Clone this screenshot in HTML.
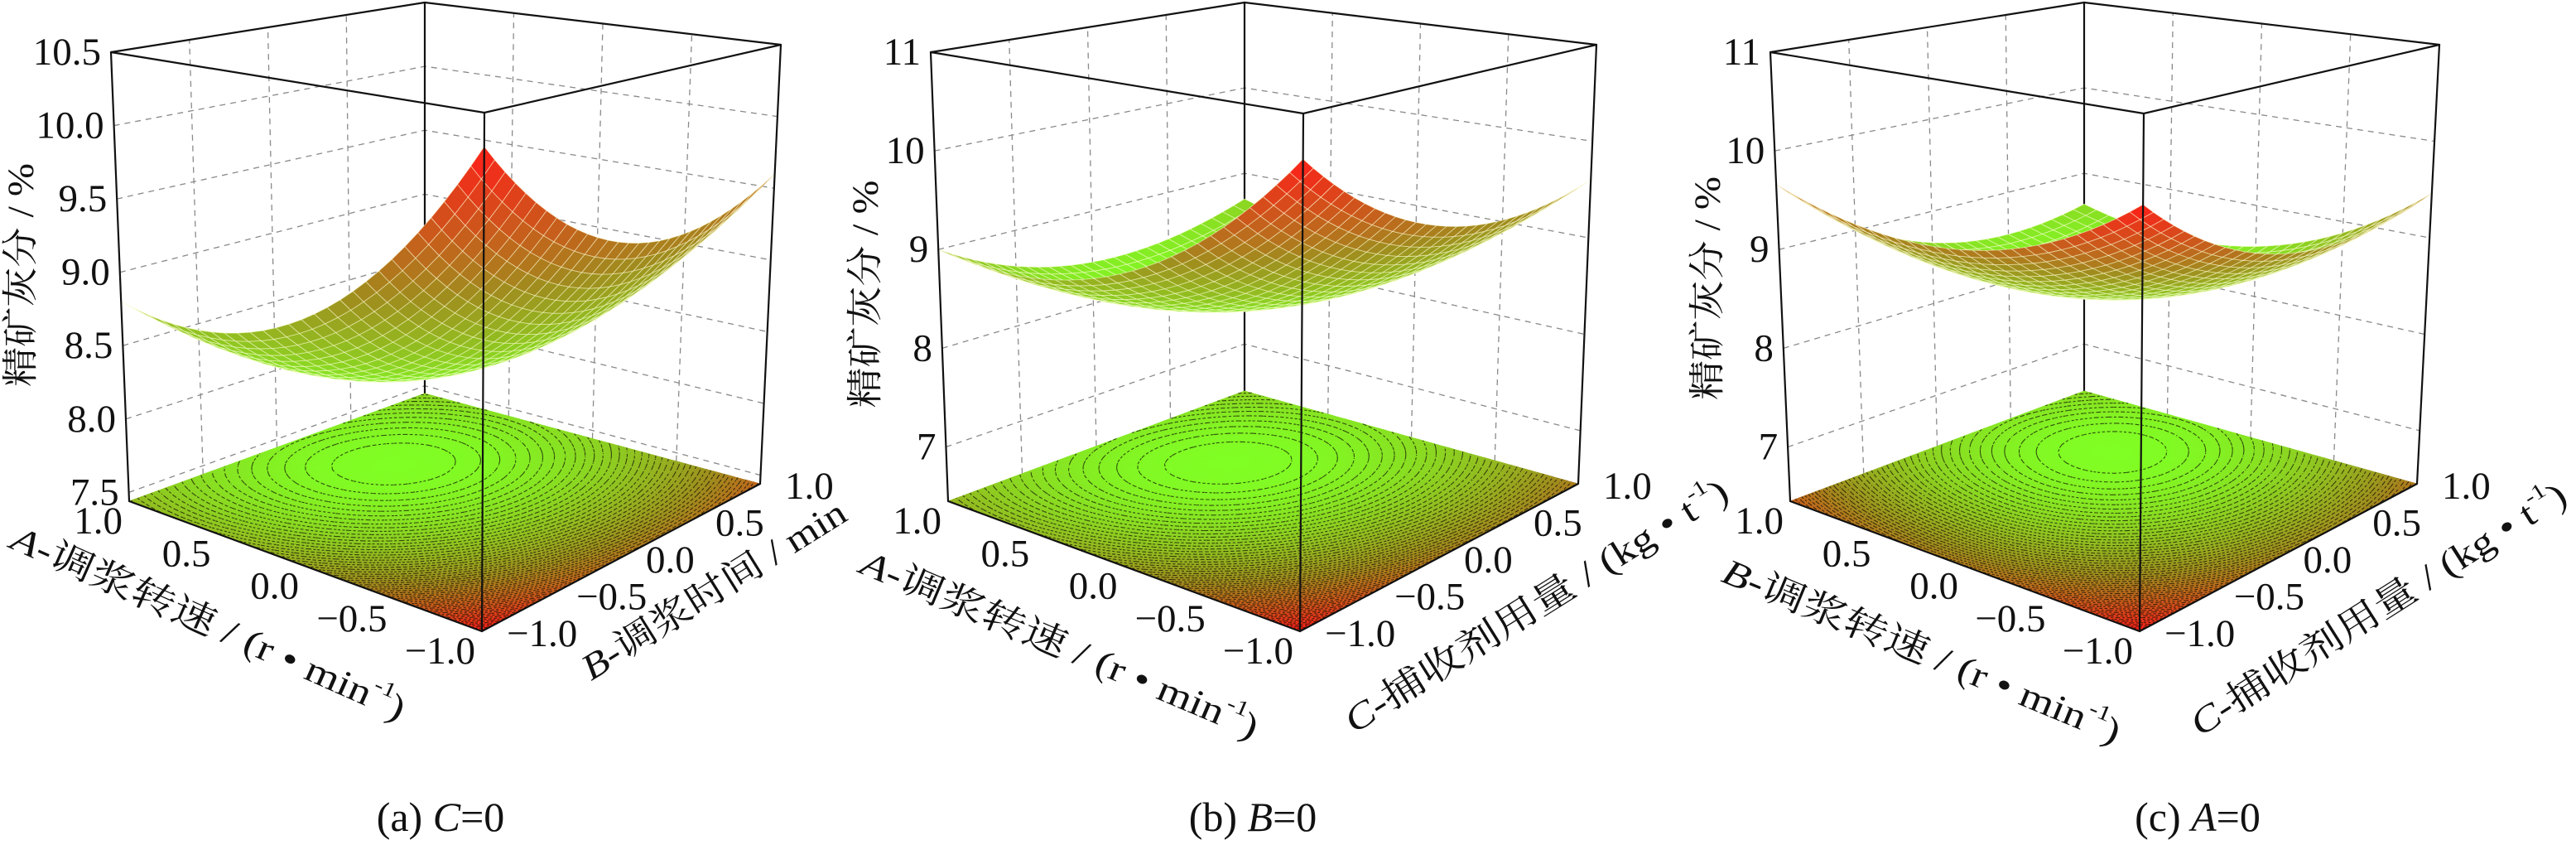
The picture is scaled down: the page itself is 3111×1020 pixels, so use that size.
<!DOCTYPE html>
<html><head><meta charset="utf-8">
<style>
body{margin:0;background:#fff}
svg{display:block}
text{font-family:"Liberation Serif","Noto Serif CJK SC",serif;fill:#111}
</style></head>
<body>
<svg id="chart" width="3111" height="1020" viewBox="0 0 3111 1020">
<rect width="3111" height="1020" fill="#fff"/>
<g id="plot-a"></g>
<g id="plot-b"></g>
<g id="plot-c"></g>

<g font-size="44">
<text transform="translate(25,332) rotate(-90)" text-anchor="middle" dominant-baseline="central" textLength="270" lengthAdjust="spacingAndGlyphs">精矿灰分 / %</text>
<text transform="translate(252,752) rotate(24)" text-anchor="middle" dominant-baseline="central" textLength="516" lengthAdjust="spacingAndGlyphs"><tspan font-style="italic">A</tspan>-调浆转速 / (r • min<tspan font-size="26" dy="-16">-1</tspan><tspan dy="16">)</tspan></text>
<text transform="translate(862,712) rotate(-32)" text-anchor="middle" dominant-baseline="central" textLength="368" lengthAdjust="spacingAndGlyphs"><tspan font-style="italic">B</tspan>-调浆时间 / min</text>
<text x="532" y="1003" text-anchor="middle" font-size="50">(a) <tspan font-style="italic">C</tspan>=0</text>
</g>

<g font-size="44">
<text transform="translate(1045,355) rotate(-90)" text-anchor="middle" dominant-baseline="central" textLength="275" lengthAdjust="spacingAndGlyphs">精矿灰分 / %</text>
<text transform="translate(1280,778) rotate(23)" text-anchor="middle" dominant-baseline="central" textLength="517" lengthAdjust="spacingAndGlyphs"><tspan font-style="italic">A</tspan>-调浆转速 / (r • min<tspan font-size="26" dy="-16">-1</tspan><tspan dy="16">)</tspan></text>
<text transform="translate(1855,731) rotate(-32)" text-anchor="middle" dominant-baseline="central" textLength="537" lengthAdjust="spacingAndGlyphs"><tspan font-style="italic">C</tspan>-捕收剂用量 / (kg • t<tspan font-size="26" dy="-16">-1</tspan><tspan dy="16">)</tspan></text>
<text x="1513" y="1003" text-anchor="middle" font-size="50">(b) <tspan font-style="italic">B</tspan>=0</text>
</g>

<g font-size="44">
<text transform="translate(2062,348) rotate(-90)" text-anchor="middle" dominant-baseline="central" textLength="270" lengthAdjust="spacingAndGlyphs">精矿灰分 / %</text>
<text transform="translate(2321,786) rotate(22.5)" text-anchor="middle" dominant-baseline="central" textLength="516" lengthAdjust="spacingAndGlyphs"><tspan font-style="italic">B</tspan>-调浆转速 / (r • min<tspan font-size="26" dy="-16">-1</tspan><tspan dy="16">)</tspan></text>
<text transform="translate(2872,735) rotate(-32.5)" text-anchor="middle" dominant-baseline="central" textLength="529" lengthAdjust="spacingAndGlyphs"><tspan font-style="italic">C</tspan>-捕收剂用量 / (kg • t<tspan font-size="26" dy="-16">-1</tspan><tspan dy="16">)</tspan></text>
<text x="2654" y="1003" text-anchor="middle" font-size="50">(c) <tspan font-style="italic">A</tspan>=0</text>
</g>
</svg>

<script>
// ---- data ----
const xyTicks = [-1, -0.5, 0, 0.5, 1];
const xyTickLabels = ['−1.0', '−0.5', '0.0', '0.5', '1.0'];
const zTicksA = [7.5, 8.0, 8.5, 9.0, 9.5, 10.0, 10.5];
const zTickLabelsA = ['7.5', '8.0', '8.5', '9.0', '9.5', '10.0', '10.5'];
const zTicksBC = [7, 8, 9, 10, 11];
const zTickLabelsBC = ['7', '8', '9', '10', '11'];
// surface value estimates at first var = -1,0,1 (rows) and second var = -1,0,1 (cols)
const surfA_rowM1 = [10.3, 9.45, 9.6];
const surfA_row0  = [9.0, 8.3, 8.55];
const surfA_rowP1 = [8.8, 8.3, 8.55];
const surfB_rowM1 = [10.6, 9.6, 9.6];
const surfB_row0  = [9.2, 8.4, 8.6];
const surfB_rowP1 = [9.0, 8.45, 8.7];
const surfC_rowM1 = [10.2, 9.34, 9.46];
const surfC_row0  = [9.43, 8.5, 8.55];
const surfC_rowP1 = [9.66, 8.66, 8.64];
const zRangeA = [7.44, 10.5];
const zRangeBC = [6.45, 11];

const NS = 'http://www.w3.org/2000/svg';
function mk(tag, attrs, parent) {
  const el = document.createElementNS(NS, tag);
  for (const k in attrs) el.setAttribute(k, attrs[k]);
  parent.appendChild(el);
  return el;
}
function lag(t) { return [t * (t - 1) / 2, 1 - t * t, t * (t + 1) / 2]; }
function evalSurf(g, x1, x2) {
  const a = lag(x1), b = lag(x2);
  let s = 0;
  for (let i = 0; i < 3; i++) for (let j = 0; j < 3; j++) s += a[i] * b[j] * g[i][j];
  return s;
}
const stops = [[0, [128, 255, 36]], [0.5, [160, 140, 30]], [1, [255, 28, 25]]];
function cmap(t) {
  t = Math.max(0, Math.min(1, t));
  for (let k = 0; k < stops.length - 1; k++) {
    const [t0, c0] = stops[k], [t1, c1] = stops[k + 1];
    if (t <= t1) {
      const r = (t - t0) / (t1 - t0);
      return 'rgb(' + c0.map((c, i) => Math.round(c + (c1[i] - c) * r)).join(',') + ')';
    }
  }
  return 'rgb(255,28,25)';
}

function drawPanel(id, grid, zr, zTicks, zLabels, geo) {
  const root = document.getElementById(id);
  const zmin = zr[0], zmax = zr[1];
  function bil(c, u, v) {
    return [
      c.f[0] * (1 - u) * (1 - v) + c.l[0] * u * (1 - v) + c.r[0] * (1 - u) * v + c.b[0] * u * v,
      c.f[1] * (1 - u) * (1 - v) + c.l[1] * u * (1 - v) + c.r[1] * (1 - u) * v + c.b[1] * u * v
    ];
  }
  function P(x1, x2, z) {
    const u = (x1 + 1) / 2, v = (x2 + 1) / 2, w = (z - zmin) / (zmax - zmin);
    const p0 = bil(geo.bot, u, v), p1 = bil(geo.top, u, v);
    return [p0[0] * (1 - w) + p1[0] * w, p0[1] * (1 - w) + p1[1] * w];
  }
  const pt = p => p[0].toFixed(1) + ',' + p[1].toFixed(1);

  let fmin = 1e9, fmax = -1e9;
  for (let i = 0; i <= 40; i++) for (let j = 0; j <= 40; j++) {
    const v = evalSurf(grid, -1 + i / 20, -1 + j / 20);
    fmin = Math.min(fmin, v); fmax = Math.max(fmax, v);
  }
  const col = v => cmap((v - fmin) / (fmax - fmin));

  const walls = mk('g', {}, root);
  
  
  const dash = { stroke: '#8a8a8a', 'stroke-width': 1.3, 'stroke-dasharray': '7,6', fill: 'none' };
  xyTicks.forEach(t => {
    if (Math.abs(t) === 1) return;
    const l1 = mk('line', Object.assign({}, dash, { x1: P(1, t, zmin)[0], y1: P(1, t, zmin)[1], x2: P(1, t, zmax)[0], y2: P(1, t, zmax)[1] }), walls);
    
    
    const l2 = mk('line', Object.assign({}, dash, { x1: P(t, 1, zmin)[0], y1: P(t, 1, zmin)[1], x2: P(t, 1, zmax)[0], y2: P(t, 1, zmax)[1] }), walls);
    
    
  });
  zTicks.forEach(z => {
    const d = 'M' + pt(P(1, -1, z)) + 'L' + pt(P(1, 1, z)) + 'L' + pt(P(-1, 1, z));
    const l = mk('path', Object.assign({}, dash, { d: d }), walls);
    
    
  });

  const edge = { stroke: '#111', 'stroke-width': 2.2, fill: 'none', 'stroke-linecap': 'round' };
  const backEdges = mk('path', Object.assign({}, edge, {
    d: 'M' + pt(P(1, 1, zmin)) + 'L' + pt(P(1, 1, zmax)) + 'M' + pt(P(1, -1, zmax)) + 'L' + pt(P(1, 1, zmax)) + 'L' + pt(P(-1, 1, zmax))
  }), root);
  
  

  const floor = mk('g', {}, root);
  
  
  const NF = 50;
  const vals = [];
  for (let i = 0; i <= NF; i++) { vals.push([]); for (let j = 0; j <= NF; j++) vals[i].push(evalSurf(grid, -1 + 2 * i / NF, -1 + 2 * j / NF)); }
  for (let i = 0; i < NF; i++) for (let j = 0; j < NF; j++) {
    const x1a = -1 + 2 * i / NF, x1b = -1 + 2 * (i + 1) / NF, x2a = -1 + 2 * j / NF, x2b = -1 + 2 * (j + 1) / NF;
    const c = col((vals[i][j] + vals[i + 1][j] + vals[i][j + 1] + vals[i + 1][j + 1]) / 4);
    const q = mk('polygon', { points: [P(x1a, x2a, zmin), P(x1b, x2a, zmin), P(x1b, x2b, zmin), P(x1a, x2b, zmin)].map(pt).join(' '), fill: c, stroke: c, 'stroke-width': 0.8 }, floor);
    
    
  }
  let cd = '';
  const nLev = 60;
  for (let k = 1; k < nLev; k++) {
    const L = fmin + (fmax - fmin) * k / nLev;
    for (let i = 0; i < NF; i++) for (let j = 0; j < NF; j++) {
      const corners = [[i, j], [i + 1, j], [i + 1, j + 1], [i, j + 1]];
      const pts = [];
      for (let e = 0; e < 4; e++) {
        const A = corners[e], B = corners[(e + 1) % 4];
        const va = vals[A[0]][A[1]], vb = vals[B[0]][B[1]];
        if ((va - L) * (vb - L) < 0) {
          const r = (L - va) / (vb - va);
          const gi = A[0] + (B[0] - A[0]) * r, gj = A[1] + (B[1] - A[1]) * r;
          pts.push(P(-1 + 2 * gi / NF, -1 + 2 * gj / NF, zmin));
        }
      }
      for (let m = 0; m + 1 < pts.length; m += 2) cd += 'M' + pt(pts[m]) + 'L' + pt(pts[m + 1]);
    }
  }
  const cont = mk('path', { d: cd, stroke: 'rgba(10,10,0,0.7)', 'stroke-width': 1.1, 'stroke-dasharray': '3,2.5', fill: 'none' }, floor);
  
  

  const surf = mk('g', {}, root);
  
  
  const NS_ = 28;
  const cells = [];
  for (let i = 0; i < NS_; i++) for (let j = 0; j < NS_; j++) cells.push([i, j]);
  cells.sort((p, q) => (q[0] + q[1]) - (p[0] + p[1]));
  cells.forEach(([i, j]) => {
    const x1a = -1 + 2 * i / NS_, x1b = -1 + 2 * (i + 1) / NS_, x2a = -1 + 2 * j / NS_, x2b = -1 + 2 * (j + 1) / NS_;
    const za = evalSurf(grid, x1a, x2a), zb = evalSurf(grid, x1b, x2a), zc = evalSurf(grid, x1b, x2b), zd = evalSurf(grid, x1a, x2b);
    const c = col((za + zb + zc + zd) / 4);
    const q = mk('polygon', { points: [P(x1a, x2a, za), P(x1b, x2a, zb), P(x1b, x2b, zc), P(x1a, x2b, zd)].map(pt).join(' '), fill: c, stroke: 'rgba(255,255,215,0.55)', 'stroke-width': 0.9, 'stroke-linejoin': 'round' }, surf);
    
    
  });

  const front = mk('path', Object.assign({}, edge, {
    d: 'M' + pt(P(1, -1, zmin)) + 'L' + pt(P(-1, -1, zmin)) + 'L' + pt(P(-1, 1, zmin)) +
       'M' + pt(P(1, -1, zmin)) + 'L' + pt(P(1, -1, zmax)) +
       'M' + pt(P(-1, -1, zmin)) + 'L' + pt(P(-1, -1, zmax)) +
       'M' + pt(P(-1, 1, zmin)) + 'L' + pt(P(-1, 1, zmax)) +
       'M' + pt(P(1, -1, zmax)) + 'L' + pt(P(-1, -1, zmax)) + 'L' + pt(P(-1, 1, zmax))
  }), root);
  
  

  const tk = mk('g', { 'font-size': 47 }, root);
  
  
  zTicks.forEach((z, k) => {
    const p = P(1, -1, z);
    const t = mk('text', { x: p[0] - 12, y: p[1], 'text-anchor': 'end', 'dominant-baseline': 'central' }, tk);
    
    
    t.textContent = zLabels[k];
  });
  xyTicks.forEach((v, k) => {
    const p = P(v, -1, zmin);
    const t = mk('text', { x: p[0] - 8, y: p[1] + 24, 'text-anchor': 'end', 'dominant-baseline': 'central' }, tk);
    
    
    t.textContent = xyTickLabels[k];
    const p2 = P(-1, v, zmin);
    const t2 = mk('text', { x: p2[0] + 30, y: p2[1] + 3, 'text-anchor': 'start', 'dominant-baseline': 'central' }, tk);
    
    
    t2.textContent = xyTickLabels[k];
  });
}

const geoA = { bot: { f: [582, 762], l: [156, 605], r: [918, 584], b: [513, 475] }, top: { f: [585, 136], l: [134, 63], r: [943, 54], b: [513, 3] } };
const geoB = { bot: { f: [1570, 762], l: [1145, 605], r: [1906, 584], b: [1503, 472] }, top: { f: [1574, 137], l: [1124, 63], r: [1928, 54], b: [1503, 3] } };
const geoC = { bot: { f: [2584, 762], l: [2162, 605], r: [2919, 584], b: [2517, 472] }, top: { f: [2589, 137], l: [2138, 63], r: [2946, 54], b: [2517, 3] } };

drawPanel('plot-a', [surfA_rowM1, surfA_row0, surfA_rowP1], zRangeA, zTicksA, zTickLabelsA, geoA);
drawPanel('plot-b', [surfB_rowM1, surfB_row0, surfB_rowP1], zRangeBC, zTicksBC, zTickLabelsBC, geoB);
drawPanel('plot-c', [surfC_rowM1, surfC_row0, surfC_rowP1], zRangeBC, zTicksBC, zTickLabelsBC, geoC);
</script>
</body></html>
